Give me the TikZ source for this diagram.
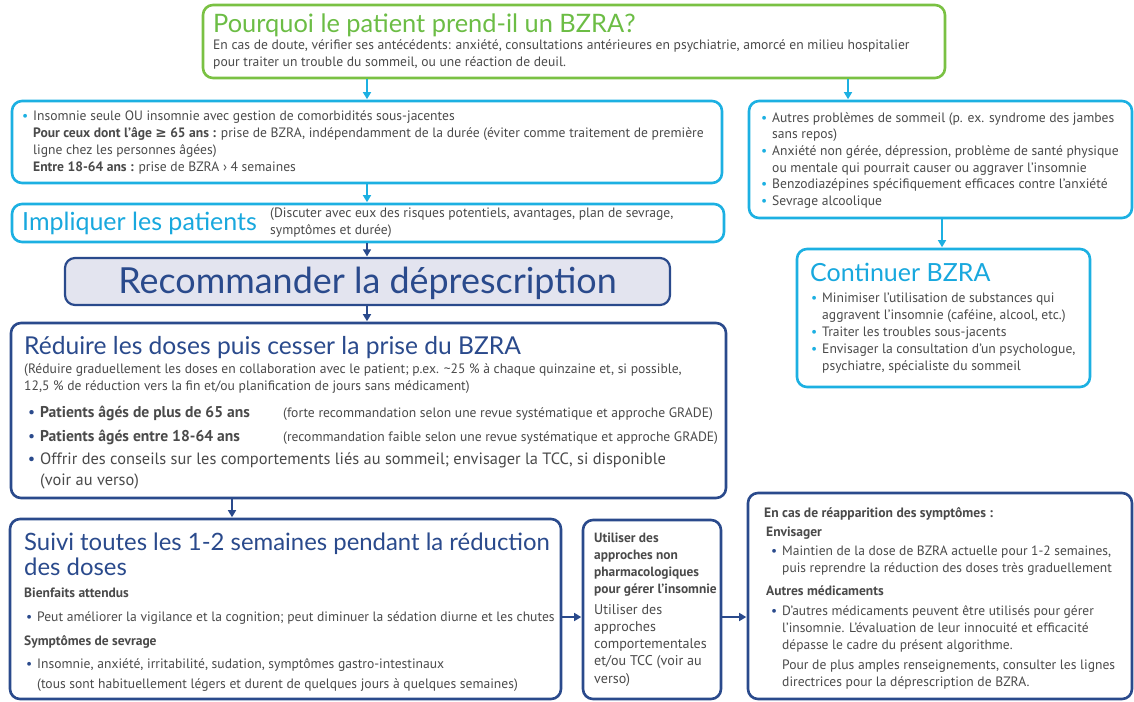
\documentclass[tikz,border=0pt]{standalone}
\usepackage{fontspec}
\setmainfont{PT Sans}
\newfontfamily\hfont{Lato}
\newfontfamily\symf{DejaVu Sans}
\usetikzlibrary{arrows.meta,fit}
\definecolor{cgreen}{HTML}{7AC143}
\definecolor{cgreent}{HTML}{6CBD45}
\definecolor{ccyan}{HTML}{1CB0E2}
\definecolor{ccyant}{HTML}{18A8DE}
\definecolor{cdark}{HTML}{2A4A8C}
\definecolor{cfill}{HTML}{E3E4EF}
\definecolor{ctext}{HTML}{4A4A4A}
\newcommand{\st}{\rule{0pt}{1em}}
\newcommand{\fs}[2]{\fontsize{#1}{#2}\selectfont}
\newcommand{\bl}[1]{\llap{\textcolor{#1}{\textbullet}\hspace{5pt}}}
\begin{document}
\begin{tikzpicture}[x=1pt,y=-1pt,
  box/.style={draw=#1, line width=2.6pt, rounded corners=10pt, inner sep=0pt, fill=white},
  txt/.style={anchor=north west, inner sep=0pt, align=left, text=ctext},
  tb/.style={txt, yshift=#1},
  arr/.style={draw=#1, line width=1.4pt, -{Triangle[length=7pt,width=8pt]}, shorten >=0.5pt}]
\useasboundingbox (0,0) rectangle (1134,701);
% boxes
\node[box=cgreen, fit={(203,5)(945,78)}] (g) {};
\node[box=ccyan, fit={(12,101)(722,183)}] (b1) {};
\node[box=ccyan, fit={(749,101)(1132,218)}] (r1) {};
\node[box=ccyan, fit={(12,204)(724,242)}] (b2) {};
\node[box=cdark, fill=cfill, line width=2.2pt, fit={(65,258)(670,305)}] (rec) {};
\node[box=ccyan, fit={(797,249)(1090,387)}] (cont) {};
\node[box=cdark, fit={(11,323)(726,498)}] (red) {};
\node[box=cdark, fit={(10,519)(561,699)}] (suivi) {};
\node[box=cdark, fit={(583,520)(721,699)}] (util) {};
\node[box=cdark, fit={(748,493)(1132,699)}] (rb) {};
% arrow coordinates
\coordinate (xa) at (367,0);
\coordinate (xb) at (848,0);
\coordinate (xc) at (942,0);
\coordinate (xd) at (232,0);
\coordinate (ya) at (0,617);
\draw[arr=ccyan] (g.south -| xa) -- (b1.north -| xa);
\draw[arr=ccyan] (g.south -| xb) -- (r1.north -| xb);
\draw[arr=ccyan] (b1.south -| xa) -- (b2.north -| xa);
\draw[arr=ccyan] (r1.south -| xc) -- (cont.north -| xc);
\draw[arr=cdark] (b2.south -| xa) -- (rec.north -| xa);
\draw[arr=cdark] (rec.south -| xa) -- (red.north -| xa);
\draw[arr=cdark] (red.south -| xd) -- (suivi.north -| xd);
\draw[arr=cdark] (suivi.east |- ya) -- (util.west |- ya);
\draw[arr=cdark] (util.east |- ya) -- (rb.west |- ya);
% top green
\node[tb=25.4pt, text=cgreent, font=\hfont\fs{25.4}{30}] (gt) at (213,32) {\st Pourquoi le patient prend-il un BZRA?};
\node[tb=13.6pt, font=\fs{13.6}{17}] (gb) at (213,49) {\st En cas de doute, vérifier ses antécédents: anxiété, consultations antérieures en psychiatrie, amorcé en milieu hospitalier\\pour traiter un trouble du sommeil, ou une réaction de deuil.};
% b1
\node[tb=13.6pt, font=\fs{13.6}{17}] (b1t) at (33,120) {\st\bl{ccyan}Insomnie seule OU insomnie avec gestion de comorbidités sous-jacentes\\\textbf{Pour ceux dont l’âge {\symf\bfseries ≥} 65 ans :} prise de BZRA, indépendamment de la durée (éviter comme traitement de première\\ligne chez les personnes âgées)\\\textbf{Entre 18-64 ans :} prise de BZRA › 4 semaines};
% b2
\node[tb=25pt, text=ccyant, font=\hfont\fs{25}{28}] (b2t) at (22,230) {\st Impliquer les patients};
\node[tb=13.6pt, font=\fs{13.6}{17}] (b2s) at (270,217) {\st (Discuter avec eux des risques potentiels, avantages, plan de sevrage,\\symptômes et durée)};
% rec
\node[inner sep=0pt, text=cdark, font=\hfont\fs{35.9}{40}] (rect) at ([yshift=-2pt]rec.center) {Recommander la déprescription};
% r1
\node[tb=13.6pt, font=\fs{13.6}{16.6}] (r1t) at (772,122) {\st\bl{ccyan}Autres problèmes de sommeil (p. ex. syndrome des jambes\\sans repos)\\\bl{ccyan}Anxiété non gérée, dépression, problème de santé physique\\ou mentale qui pourrait causer ou aggraver l’insomnie\\\bl{ccyan}Benzodiazépines spécifiquement efficaces contre l’anxiété\\\bl{ccyan}Sevrage alcoolique};
% cont
\node[tb=25pt, text=ccyant, font=\hfont\fs{25}{30}] (contt) at (810,281) {\st Continuer BZRA};
\node[tb=13.6pt, font=\fs{13.6}{17}] (contb) at (822,302) {\st\bl{ccyan}Minimiser l’utilisation de substances qui\\aggravent l’insomnie (caféine, alcool, etc.)\\\bl{ccyan}Traiter les troubles sous-jacents\\\bl{ccyan}Envisager la consultation d’un psychologue,\\psychiatre, spécialiste du sommeil};
% red
\node[tb=24.6pt, text=cdark, font=\hfont\fs{24.6}{28}] (redt) at (24,354) {\st Réduire les doses puis cesser la prise du BZRA};
\node[tb=13.6pt, font=\fs{13.6}{17}] (redb) at (24,373) {\st (Réduire graduellement les doses en collaboration avec le patient; p.ex. \textasciitilde 25 \% à chaque quinzaine et, si possible,\\12,5 \% de réduction vers la fin et/ou planification de jours sans médicament)};
\node[tb=15.6pt, font=\fs{15.6}{24}] (redp) at (40,417) {\st\bl{cdark}\textbf{Patients âgés de plus de 65 ans}\\\bl{cdark}\textbf{Patients âgés entre 18-64 ans}};
\node[tb=13.6pt, font=\fs{13.6}{24}] (redg) at (283,417) {\st (forte recommandation selon une revue systématique et approche GRADE)\\(recommandation faible selon une revue systématique et approche GRADE)};
\node[tb=16.4pt, font=\fs{16.4}{21}] (redo) at (40,464) {\st\bl{cdark}Offrir des conseils sur les comportements liés au sommeil; envisager la TCC, si disponible\\(voir au verso)};
% suivi
\node[tb=23.9pt, text=cdark, font=\hfont\fs{23.9}{25}] (suivit) at (24,550) {\st Suivi toutes les 1-2 semaines pendant la réduction\\des doses};
\node[tb=13.5pt, font=\bfseries\fs{13.5}{17}] (suivib) at (24,597) {\st Bienfaits attendus};
\node[tb=13.6pt, font=\fs{13.6}{17}] (suivibb) at (37,621) {\st\bl{cdark}Peut améliorer la vigilance et la cognition; peut diminuer la sédation diurne et les chutes};
\node[tb=13.5pt, font=\bfseries\fs{13.5}{17}] (suivis) at (24,645) {\st Symptômes de sevrage};
\node[tb=13.6pt, font=\fs{13.6}{20}] (suivisb) at (37,668) {\st\bl{cdark}Insomnie, anxiété, irritabilité, sudation, symptômes gastro-intestinaux\\(tous sont habituellement légers et durent de quelques jours à quelques semaines)};
% util
\node[tb=13.4pt, font=\bfseries\fs{13.4}{17}] (utilb) at (594,542) {\st Utiliser des\\approches non\\pharmacologiques\\pour gérer l’insomnie};
\node[tb=14.1pt, font=\fs{14.1}{17.2}] (utilr) at (594,614) {\st Utiliser des\\approches\\comportementales\\et/ou TCC (voir au\\verso)};
% rb
\node[tb=13.6pt, font=\bfseries\fs{13.6}{17}] (rbh) at (764,517) {\st En cas de réapparition des symptômes :};
\node[tb=13.5pt, font=\bfseries\fs{13.5}{17}] (rbe) at (766,536) {\st Envisager};
\node[tb=13.5pt, font=\fs{13.5}{17}] (rbeb) at (782,555) {\st\bl{cdark}Maintien de la dose de BZRA actuelle pour 1-2 semaines,\\puis reprendre la réduction des doses très graduellement};
\node[tb=13.5pt, font=\bfseries\fs{13.5}{17}] (rba) at (766,595) {\st Autres médicaments};
\node[tb=13.5pt, font=\fs{13.5}{17}] (rbab) at (782,615) {\st\bl{cdark}D’autres médicaments peuvent être utilisés pour gérer\\l’insomnie. L’évaluation de leur innocuité et efficacité\\dépasse le cadre du présent algorithme.};
\node[tb=13.6pt, font=\fs{13.6}{17}] (rbp) at (782,669) {\st Pour de plus amples renseignements, consulter les lignes\\directrices pour la déprescription de BZRA.};
\end{tikzpicture}
\end{document}
